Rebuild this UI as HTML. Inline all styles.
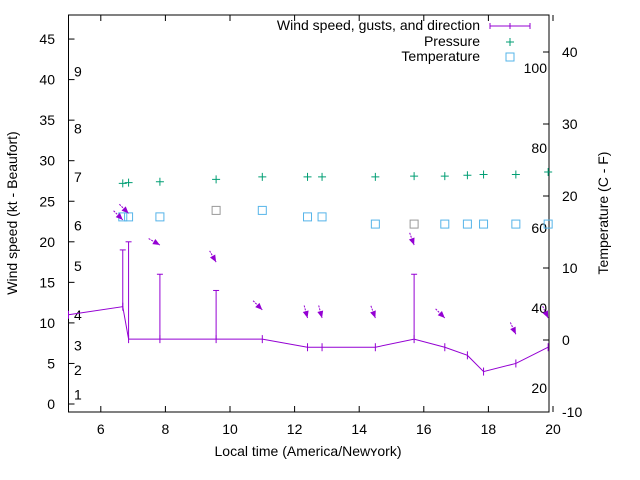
<!DOCTYPE html>
<html><head><meta charset="utf-8"><style>
body{margin:0;background:#fff}
svg{display:block;font-family:"Liberation Sans",sans-serif}
</style></head><body>
<svg id="chart" width="640" height="480">
<g id="axes"></g><g id="marks"></g>
</svg>
<script>
const times=[5.0,6.68,6.86,7.83,9.57,11.0,12.4,12.85,14.5,15.7,16.65,17.35,17.85,18.85,19.85];
const windKt=[11,12,8,8,8,8,7,7,7,8,7,6,4,5,7];
const gustKt=[null,19,20,16,14,null,null,null,null,16,null,null,null,null,null];
const pTimes=[6.68,6.86,7.83,9.57,11.0,12.4,12.85,14.5,15.7,16.65,17.35,17.85,18.85,19.85];
const pressure=[27.2,27.3,27.4,27.7,28.0,28.0,28.0,28.0,28.1,28.1,28.2,28.3,28.3,28.6];
const tTimes=[6.68,6.86,7.83,9.57,11.0,12.4,12.85,14.5,15.7,16.65,17.35,17.85,18.85,19.85];
const tempC=[17.1,17.1,17.1,18.0,18.0,17.1,17.1,16.1,16.1,16.1,16.1,16.1,16.1,16.1];
const aTimes=[6.68,6.86,7.83,9.57,11.0,12.4,12.85,14.5,15.7,16.65,18.85,19.85];
const arrowKt=[22.7,23.5,19.6,17.5,11.6,10.6,10.6,10.6,19.6,10.6,8.6,10.6];
const arrowDeg=[45,45,30,60,45,75,75,70,70,45,65,65];
const xTicks=[6,8,10,12,14,16,18,20];
const yTicks=[0,5,10,15,20,25,30,35,40,45];
const y2Ticks=[-10,0,10,20,30,40];
const fLabels=[20,40,60,80,100];
const bLabels=["1","2","3","4","5","6","7","8","9"];
const bKt=[1.2,4.2,7.2,11.0,17.0,22.0,28.0,34.0,41.0];

const L=68.5,R=549,T=15,B=412;
const X=t=>L+32.3*(t-5);
const Y=v=>404-8.11*v;
const Y2=c=>340-7.2*c;
const NS="http://www.w3.org/2000/svg";
const ax=document.getElementById('axes'),mk=document.getElementById('marks');
function el(p,tag,a,txt){const e=document.createElementNS(NS,tag);for(const k in a)e.setAttribute(k,a[k]);if(txt!=null)e.textContent=txt;p.appendChild(e);return e;}

let e=el(ax,'rect',{x:L,y:T,width:R-L,height:B-T,fill:'none',stroke:'#000','stroke-width':1});


xTicks.forEach(t=>{const x=X(t);
 el(ax,'line',{x1:x,y1:B,x2:x,y2:B-6,stroke:'#000'});el(ax,'line',{x1:x,y1:T,x2:x,y2:T+6,stroke:'#000'});
 const tx=el(ax,'text',{x:x,y:B+22,'text-anchor':'middle','font-size':14},t);
 
 });
yTicks.forEach(v=>{const y=Y(v);
 el(ax,'line',{x1:L,y1:y,x2:L+6,y2:y,stroke:'#000'});
 const tx=el(ax,'text',{x:55,y:y+5,'text-anchor':'end','font-size':14},v);
 
 });
y2Ticks.forEach(c=>{const y=Y2(c);
 el(ax,'line',{x1:R,y1:y,x2:R-6,y2:y,stroke:'#000'});
 const tx=el(ax,'text',{x:562,y:y+5,'font-size':14},c);
 
 });
fLabels.forEach(f=>{const c=(f-32)*5/9;
 const tx=el(ax,'text',{x:547,y:Y2(c)+5,'text-anchor':'end','font-size':14},f);
 
 });
bLabels.forEach((b,i)=>{
 const tx=el(ax,'text',{x:74,y:Y(bKt[i])+5,'font-size':14},b);
 
 });
e=el(ax,'text',{x:0,y:0,'text-anchor':'middle','font-size':14,transform:'translate(17,213) rotate(-90)'},'Wind speed (kt - Beaufort)');


e=el(ax,'text',{x:0,y:0,'text-anchor':'middle','font-size':14,transform:'translate(608,213) rotate(-90)'},'Temperature (C - F)');


e=el(ax,'text',{x:308,y:456,'text-anchor':'middle','font-size':14},'Local time (America/New\u028Fork)');



const P='#9400d3',G='#009e73',C='#56b4e9';
// wind line
e=el(mk,'polyline',{points:times.map((t,i)=>X(t)+','+Y(windKt[i])).join(' '),fill:'none',stroke:P,'stroke-width':1});


times.forEach((t,i)=>{const x=X(t),y=Y(windKt[i]);
 el(mk,'line',{x1:x,y1:y-4,x2:x,y2:y+4,stroke:P});
 if(gustKt[i]!=null){const g=el(mk,'line',{x1:x,y1:y,x2:x,y2:Y(gustKt[i]),stroke:P});
  
  
  el(mk,'line',{x1:x-3,y1:Y(gustKt[i]),x2:x+3,y2:Y(gustKt[i]),stroke:P});}
});
pTimes.forEach((t,i)=>{const x=X(t),y=Y(pressure[i]);
 const g=el(mk,'path',{d:`M${x-4},${y}h8M${x},${y-4}v8`,stroke:G,'stroke-width':1});
 
 });
tTimes.forEach((t,i)=>{const x=X(t),y=Y2(tempC[i]);
 const g=el(mk,'rect',{x:x-4,y:y-4,width:8,height:8,fill:'none',stroke:(i==3||i==8)?'#999':C,'stroke-width':1});
 
 });
aTimes.forEach((t,i)=>{const x=X(t),y=Y(arrowKt[i]),a=arrowDeg[i]*Math.PI/180;
 const dx=Math.cos(a),dy=Math.sin(a),len=13;
 const x0=x-dx*len,y0=y-dy*len;
 const px=-dy,py=dx;
 const g=el(mk,'g',{});
 
 
 el(g,'line',{x1:x0,y1:y0,x2:x,y2:y,stroke:P,'stroke-dasharray':'2,1'});
 el(g,'polygon',{points:`${x},${y} ${x-dx*7+px*3},${y-dy*7+py*3} ${x-dx*7-px*3},${y-dy*7-py*3}`,fill:P});
});
// legend
const lg=el(ax,'g',{});


[['Wind speed, gusts, and direction',30],['Pressure',46],['Temperature',61]].forEach((d,i)=>{
 const tx=el(lg,'text',{x:480,y:d[1],'text-anchor':'end','font-size':14},d[0]);
 
 });
el(lg,'path',{d:'M490,26h40M490,23v6M510,23v6M530,23v6',stroke:P,fill:'none'});
el(lg,'path',{d:'M506,42h8M510,38v8',stroke:G});
el(lg,'rect',{x:506,y:53,width:8,height:8,fill:'none',stroke:C});
</script>
</body></html>
